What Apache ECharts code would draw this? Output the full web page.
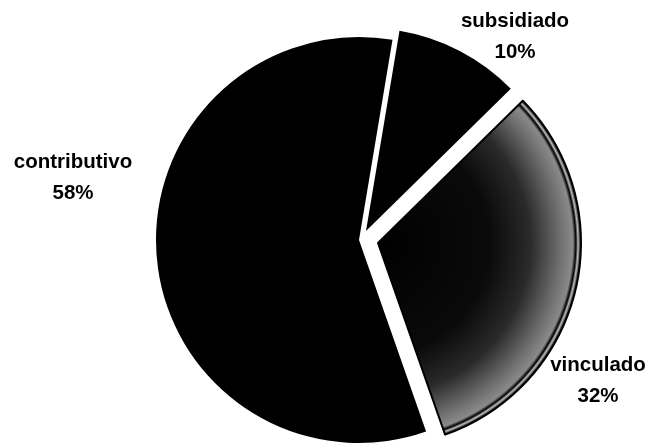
<!DOCTYPE html>
<html>
<head>
<meta charset="utf-8">
<script src="https://cdn.jsdelivr.net/npm/echarts@6/dist/echarts.min.js"></script>
<style>
html,body{margin:0;padding:0;background:#fff;}
#c{width:648px;height:444px;}
</style>
</head>
<body>
<div id="c"></div>
<script>
const categories = ['subsidiado', 'vinculado', 'contributivo'];
const values = [10, 32, 58];
const percentLabels = ['10%', '32%', '58%'];

// layout / style (not data)
const centers = [[366, 231], [378, 243], [359, 240]];
const labelPos = [[515, 37], [598, 381], [73, 178]];
const R = 203;

const fills = [
  '#000000',
  {
    type: 'radial', x: 378, y: 243, r: R, global: true,
    colorStops: [
      {offset: 0, color: '#000'},
      {offset: 0.55, color: '#0a0a0a'},
      {offset: 0.75, color: '#2a2a2a'},
      {offset: 0.9, color: '#707070'},
      {offset: 0.96, color: '#8a8a8a'},
      {offset: 0.975, color: '#000'},
      {offset: 0.985, color: '#bbb'},
      {offset: 1, color: '#000'}
    ]
  },
  '#000000'
];

const chart = echarts.init(document.getElementById('c'), null, {renderer: 'canvas'});

const series = categories.map(function (name, si) {
  return {
    type: 'pie',
    center: centers[si],
    radius: [0, R],
    startAngle: 80.5,
    clockwise: true,
    silent: true,
    animation: false,
    avoidLabelOverlap: false,
    labelLine: {show: false},
    labelLayout: function (p) {
      return {x: labelPos[si][0], y: labelPos[si][1], align: 'center', verticalAlign: 'middle'};
    },
    data: categories.map(function (n, i) {
      const visible = i === si;
      return {
        name: n,
        value: values[i],
        itemStyle: visible
          ? {color: fills[i], borderColor: '#000', borderWidth: i === 1 ? 2 : 0}
          : {color: 'transparent', borderWidth: 0},
        label: visible
          ? {
              show: true,
              position: 'outside',
              formatter: n + '\n' + percentLabels[i],
              fontFamily: 'Liberation Sans, Arial, sans-serif',
              fontWeight: 'bold',
              fontSize: 20.5,
              lineHeight: 31,
              color: '#000'
            }
          : {show: false}
      };
    })
  };
});

chart.setOption({
  backgroundColor: '#ffffff',
  animation: false,
  series: series
});
</script>
</body>
</html>
